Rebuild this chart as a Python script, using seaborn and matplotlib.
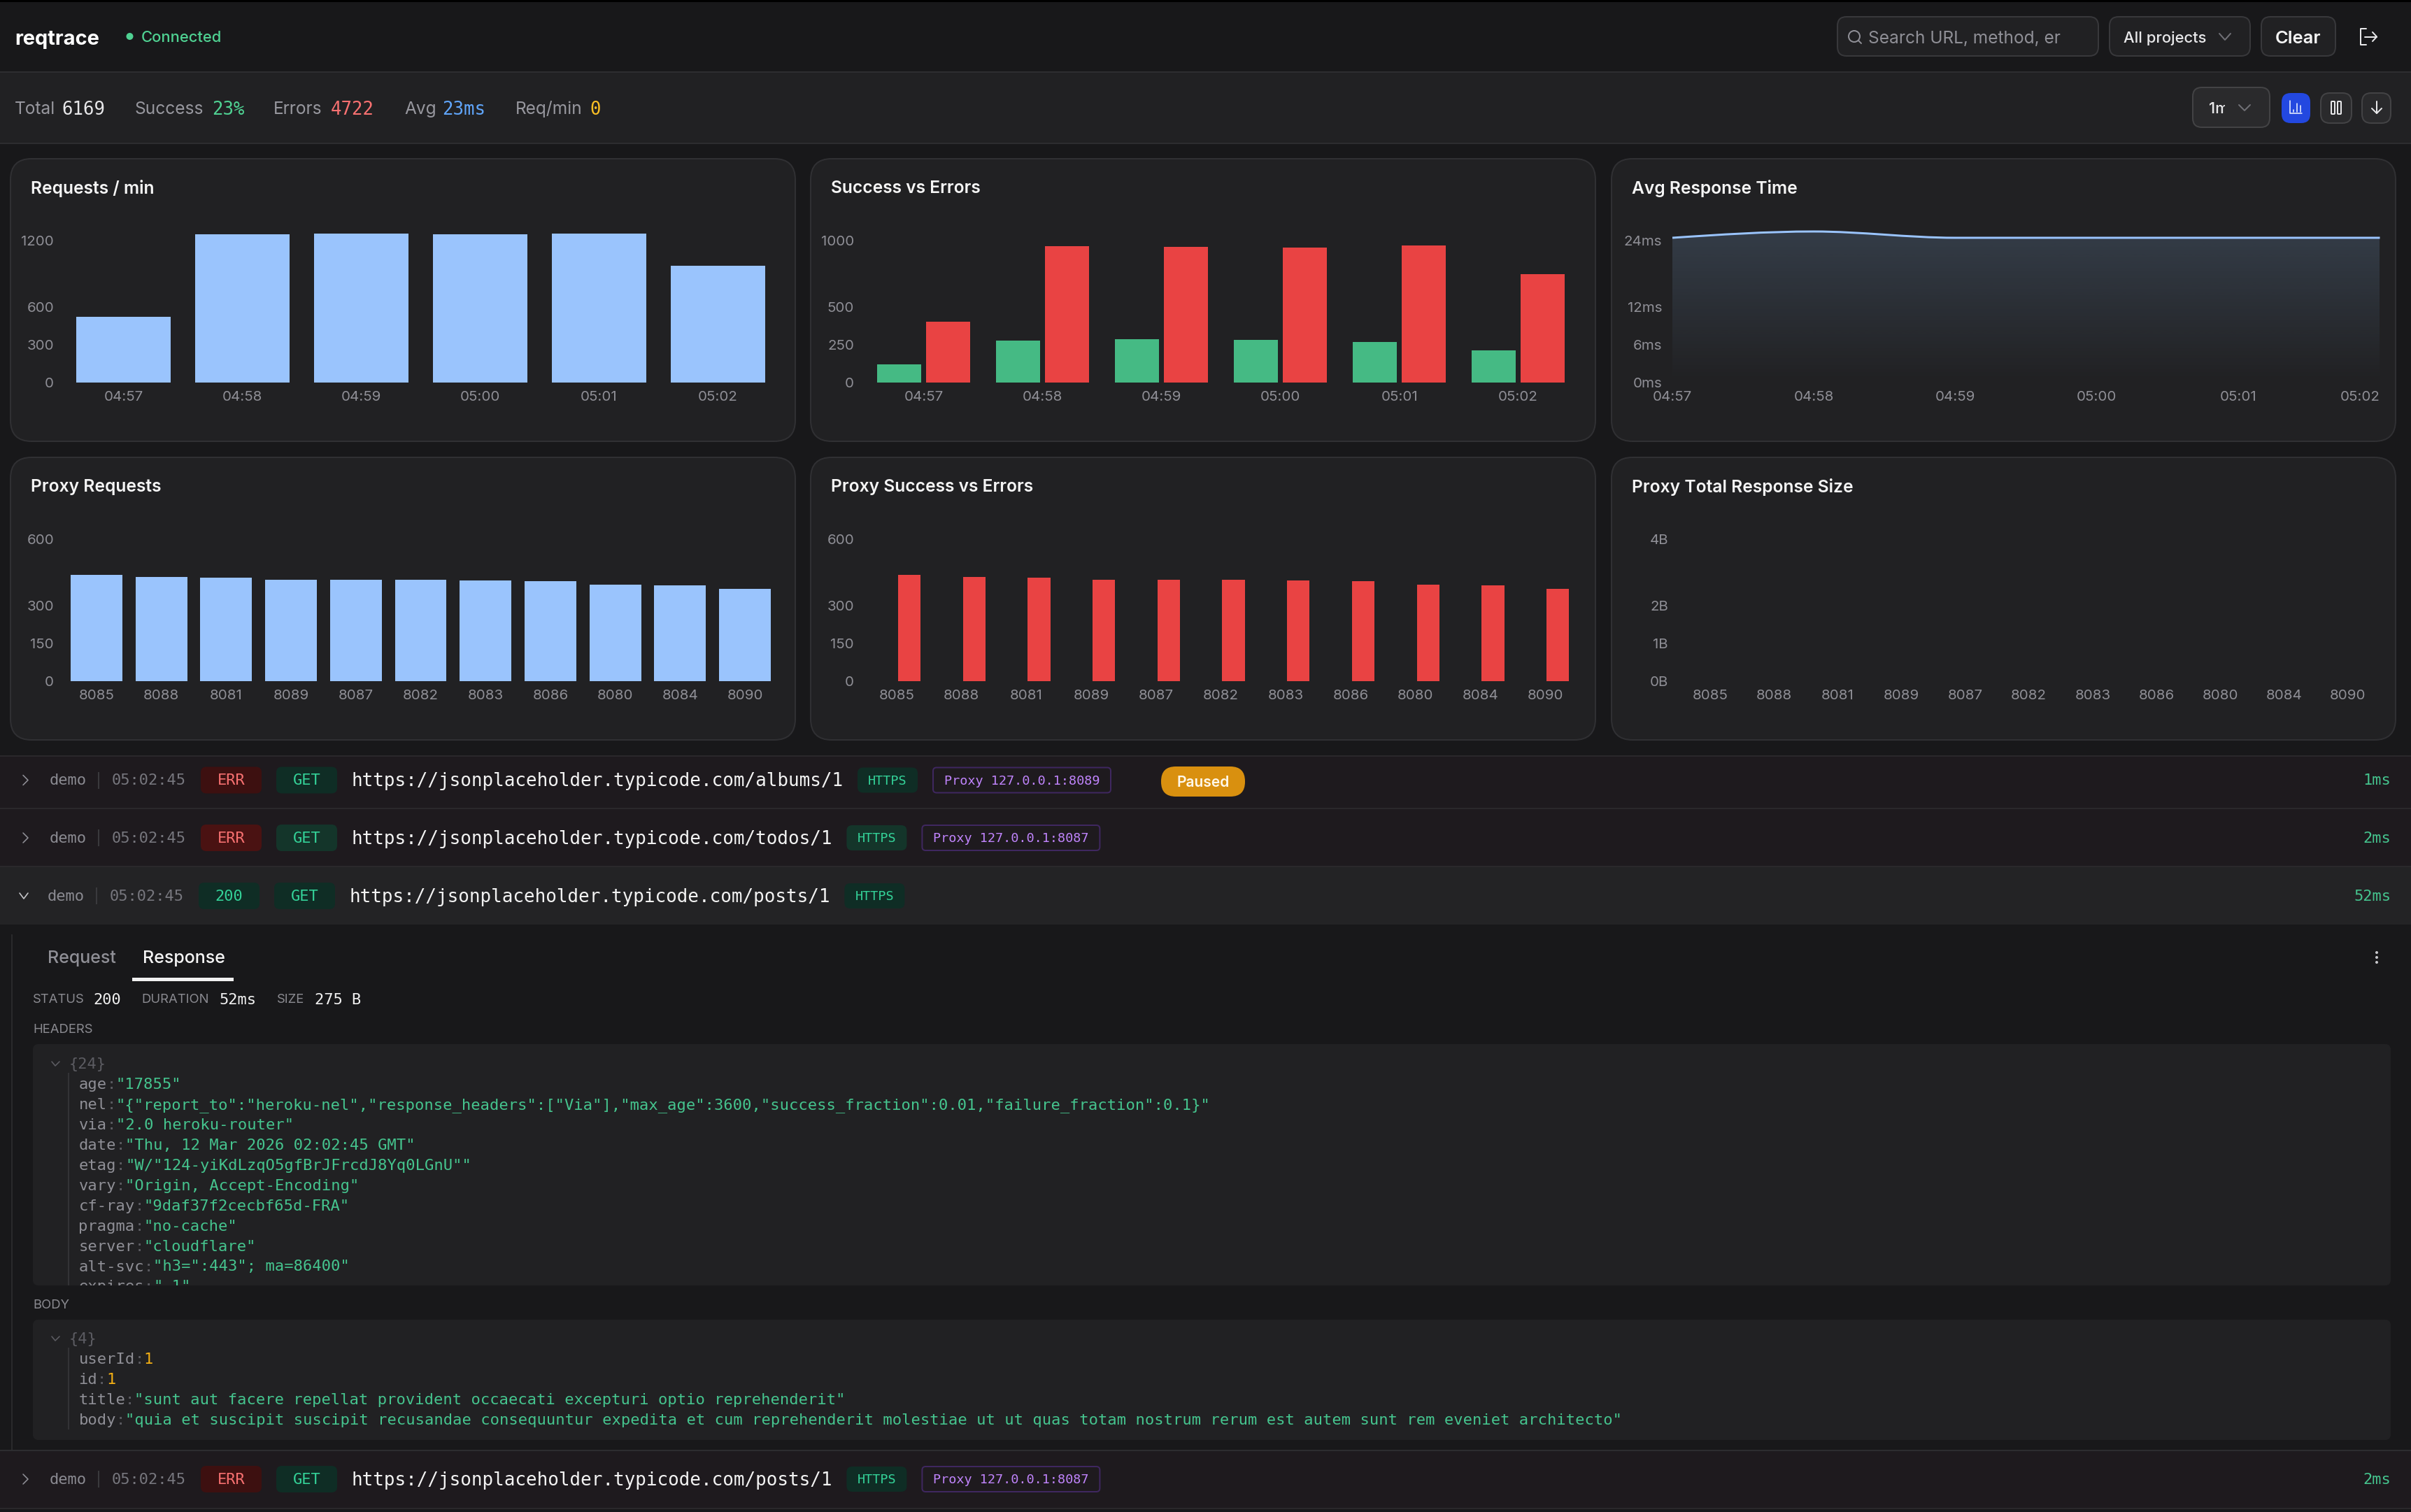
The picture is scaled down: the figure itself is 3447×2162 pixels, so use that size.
#!/usr/bin/env python3
"""reqtrace dashboard screenshot, rebuilt with seaborn charts on a pixel canvas"""

import numpy as np
import pandas as pd
import matplotlib.pyplot as plt
import seaborn as sns
from matplotlib.patches import FancyBboxPatch, PathPatch, Rectangle, Circle
from matplotlib.path import Path
from matplotlib.transforms import ScaledTranslation

W, H = 3448, 2162
DPI = 100

# --- chart data ---
minutes = ['04:57', '04:58', '04:59', '05:00', '05:01', '05:02']
requests_per_min = [522, 1178, 1183, 1178, 1183, 930]
success_per_min = [119, 276, 286, 284, 270, 214]
errors_per_min = [403, 903, 897, 895, 909, 718]
avg_response_ms = [23, 24, 23, 23, 23, 23]

ports = ['8085', '8088', '8081', '8089', '8087', '8082', '8083', '8086', '8080', '8084', '8090']
proxy_requests = [422, 415, 412, 404, 402, 402, 400, 397, 383, 381, 367]
proxy_success = [0, 0, 0, 0, 0, 0, 0, 0, 0, 0, 0]
proxy_errors = [422, 415, 412, 404, 402, 402, 400, 397, 383, 381, 367]
proxy_size_bytes = [0, 0, 0, 0, 0, 0, 0, 0, 0, 0, 0]

req_ticks = [0, 300, 600, 1200]
split_ticks = [0, 250, 500, 1000]
ms_ticks = [0, 6, 12, 24]
proxy_ticks = [0, 150, 300, 600]
size_ticks = [0, 1, 2, 4]

# --- page text ---
stat_labels = ['Total', 'Success', 'Errors', 'Avg', 'Req/min']
stat_values = ['6169', '23%', '4722', '23ms', '0']

header_lines = [
    ('age', '"17855"'),
    ('nel', '"{"report_to":"heroku-nel","response_headers":["Via"],"max_age":3600,"success_fraction":0.01,"failure_fraction":0.1}"'),
    ('via', '"2.0 heroku-router"'),
    ('date', '"Thu, 12 Mar 2026 02:02:45 GMT"'),
    ('etag', '"W/"124-yiKdLzqO5gfBrJFrcdJ8Yq0LGnU""'),
    ('vary', '"Origin, Accept-Encoding"'),
    ('cf-ray', '"9daf37f2cecbf65d-FRA"'),
    ('pragma', '"no-cache"'),
    ('server', '"cloudflare"'),
    ('alt-svc', '"h3=":443"; ma=86400"'),
    ('expires', '"-1"'),
]
body_lines = [
    ('userId', '1'),
    ('id', '1'),
    ('title', '"sunt aut facere repellat provident occaecati excepturi optio reprehenderit"'),
    ('body', '"quia et suscipit suscipit recusandae consequuntur expedita et cum reprehenderit molestiae ut ut quas totam nostrum rerum est autem sunt rem eveniet architecto"'),
]

# colours
PAGE = '#18181a'
PANEL = '#212123'
LINE = '#2d2d30'
MUTED = '#8f8f96'
BLUE = '#9ac4fd'
RED = '#e94343'
GREEN = '#45ba84'
TEXT_GREEN = '#45c48e'

SANS = 'Inter'
MONO = 'DejaVu Sans Mono'

sns.set_theme(style='dark', rc={'figure.facecolor': PAGE, 'axes.facecolor': 'none'})
plt.rcParams['font.family'] = [SANS, 'DejaVu Sans']

fig = plt.figure(figsize=(W / DPI, H / DPI), dpi=DPI)
ui = fig.add_axes([0, 0, 1, 1], zorder=0)
ui.set_xlim(0, W)
ui.set_ylim(H, 0)
ui.axis('off')


def pt(px):
    return px * 72 / DPI


def rect(x0, y0, x1, y1, color, z=1):
    ui.add_patch(Rectangle((x0, y0), x1 - x0, y1 - y0, fc=color, ec='none', zorder=z))


def box(x0, y0, x1, y1, r, fc, ec='none', lw=2, z=1):
    ui.add_patch(FancyBboxPatch((x0, y0), x1 - x0, y1 - y0,
                                boxstyle=f'round,pad=0,rounding_size={r}',
                                fc=fc, ec=ec, lw=pt(lw), zorder=z))


def label(x, y, s, px, color, weight='normal', ha='left', font=SANS):
    return ui.text(x, y, s, fontsize=pt(px), color=color, fontweight=weight, ha=ha,
                   va='center_baseline', family=[font, 'DejaVu Sans'], zorder=5)


def stroke(xs, ys, color, px=2.0):
    ui.plot(xs, ys, color=color, lw=pt(px), solid_capstyle='round', solid_joinstyle='round', zorder=5)


def chart_axes(x0, x1, y_top, y_base):
    ax = fig.add_axes([x0 / W, 1 - y_base / H, (x1 - x0) / W, (y_base - y_top) / H], zorder=2)
    ax.patch.set_alpha(0)
    return ax


def style_axis(ax, ticks, tick_labels, y_top_label_shift=13):
    ax.set_xlabel('')
    ax.set_ylabel('')
    ax.set_yticks(ticks)
    ax.set_yticklabels(tick_labels)
    ax.set_ylim(0, ticks[-1])
    ax.tick_params(axis='both', length=0, labelcolor=MUTED, labelsize=pt(20.5), colors=MUTED)
    ax.tick_params(axis='y', pad=pt(14.5))
    ax.tick_params(axis='x', pad=pt(12))
    ax.grid(False)
    sns.despine(ax=ax, left=True, bottom=True)
    # the top label sits lower than its tick so it stays inside the plot
    top = ax.get_yticklabels()[-1]
    top.set_transform(top.get_transform() + ScaledTranslation(0, -y_top_label_shift / DPI, fig.dpi_scale_trans))


def monotone_path(xs, ys):
    """Curve through the points with flat tangents at turning points."""
    xs, ys = np.asarray(xs, float), np.asarray(ys, float)
    slopes = np.diff(ys) / np.diff(xs)
    tang = np.zeros_like(ys)
    for i in range(1, len(ys) - 1):
        if slopes[i - 1] * slopes[i] > 0:
            tang[i] = 2 * slopes[i - 1] * slopes[i] / (slopes[i - 1] + slopes[i])
    tang[0] = 1.5 * slopes[0] - 0.5 * tang[1]
    tang[-1] = 1.5 * slopes[-1] - 0.5 * tang[-2]
    verts, codes = [(xs[0], ys[0])], [Path.MOVETO]
    for i in range(len(xs) - 1):
        dx = (xs[i + 1] - xs[i]) / 3
        verts += [(xs[i] + dx, ys[i] + tang[i] * dx),
                  (xs[i + 1] - dx, ys[i + 1] - tang[i + 1] * dx),
                  (xs[i + 1], ys[i + 1])]
        codes += [Path.CURVE4] * 3
    return verts, codes


# ---------- page frame ----------
rect(0, 0, W, 3, '#000000')
rect(0, 3, W, 103, PAGE)
rect(0, 103, W, 205, PANEL)
rect(0, 102, W, 104, LINE, z=2)
rect(0, 204, W, 206, LINE, z=2)

label(21, 53, 'reqtrace', 29, '#ffffff', weight='bold')
ui.add_patch(Circle((185.5, 52), 5, fc='#4fd192', ec='none', zorder=5))
label(202, 52, 'Connected', 22, '#4fd192', weight='medium')

box(2627, 24, 3000, 80, 13, PANEL, '#38383b')
ui.add_patch(Circle((2651, 52), 8, fc='none', ec=MUTED, lw=pt(2), zorder=5))
stroke([2657, 2661], [58, 62], MUTED)
label(2671, 53, 'Search URL, method, er', 24.5, MUTED)
box(3016, 24, 3217, 80, 13, PANEL, '#38383b')
label(3036, 53, 'All projects', 22, '#e8e8ea', weight='medium')
stroke([3173, 3181, 3189], [48, 57, 48], '#707076')
box(3233, 24, 3339, 80, 13, PANEL, '#38383b')
label(3286, 53, 'Clear', 25.5, '#f5f5f5', weight='semibold', ha='center')
stroke([3383, 3375, 3375, 3383], [41, 41, 64, 64], '#e8e8ea')
stroke([3381, 3398], [52.5, 52.5], '#e8e8ea')
stroke([3392, 3398, 3392], [46, 52.5, 59], '#e8e8ea')

# stats bar
stat_label_x = [21, 193, 391, 578, 737]
stat_value_x = [88, 303, 473, 632, 843]
stat_colors = ['#e8e8ea', '#4fd192', '#f87171', '#60a5fa', '#fbbf24']
for lx, vx, name, value, col in zip(stat_label_x, stat_value_x, stat_labels, stat_values, stat_colors):
    label(lx, 154, name, 24.5, '#97979e')
    label(vx, 154, value, 25.8, col, font=MONO)

box(3135, 125, 3245, 182, 13, '#2a2a2c', '#434345')
label(3158, 154, '1m', 22, '#e8e8ea', weight='medium')
rect(3181, 140, 3192, 170, '#2a2a2c', z=6)
stroke([3201, 3209, 3217], [150, 158, 150], '#707076')
box(3262, 133, 3303, 176, 13, '#2348e0')
stroke([3274, 3274, 3291], [144, 162, 162], '#e8eeff', 1.6)
for bx, by in [(3279, 157), (3284, 148), (3289, 151)]:
    stroke([bx, bx], [by, 160], '#e8eeff', 1.6)
box(3318, 133, 3362, 176, 13, '#2a2a2c', '#434345')
box(3333, 145, 3338, 163, 1, 'none', '#e8e8ea', z=5)
box(3342, 145, 3347, 163, 1, 'none', '#e8e8ea', z=5)
box(3377, 133, 3418, 176, 13, '#2a2a2c', '#434345')
stroke([3398, 3398], [145, 162], '#e8e8ea')
stroke([3391, 3398, 3405], [155, 162, 155], '#e8e8ea')

# ---------- chart cards ----------
card_x = [(15, 1137), (1159, 2281), (2304, 3425)]
card_y = [(227, 631), (654, 1058)]
card_titles = [['Requests / min', 'Success vs Errors', 'Avg Response Time'],
               ['Proxy Requests', 'Proxy Success vs Errors', 'Proxy Total Response Size']]
for (y0, y1), titles in zip(card_y, card_titles):
    for (x0, x1), title in zip(card_x, titles):
        box(x0, y0, x1, y1, 30, PANEL, '#303033')
        label(x0 + 29, y0 + 40, title, 24.6, '#f5f5f5', weight='semibold')

TOPS = (331, 758)
BASES = (547, 974)
PLOT_X = [(91.5, 1111.5), (1235.6, 2255.6), (2391, 3402.5)]

# Requests / min
ax = chart_axes(*PLOT_X[0], TOPS[0], BASES[0])
sns.barplot(x=minutes, y=requests_per_min, color=BLUE, saturation=1, width=0.794, linewidth=0, ax=ax)
style_axis(ax, req_ticks, [str(t) for t in req_ticks])

# Success vs Errors
split_df = pd.DataFrame({
    'minute': minutes * 2,
    'count': success_per_min + errors_per_min,
    'kind': ['success'] * len(minutes) + ['errors'] * len(minutes),
})
ax = chart_axes(*PLOT_X[1], TOPS[0], BASES[0])
sns.barplot(data=split_df, x='minute', y='count', hue='kind', palette={'success': GREEN, 'errors': RED},
            saturation=1, width=0.828, gap=0.105, linewidth=0, legend=False, ax=ax)
style_axis(ax, split_ticks, [str(t) for t in split_ticks])

# Avg Response Time
ax = chart_axes(*PLOT_X[2], TOPS[0], BASES[0])
sns.lineplot(x=np.arange(len(minutes)), y=avg_response_ms, ax=ax, errorbar=None, color=BLUE)
trend = ax.lines[0]
verts, codes = monotone_path(trend.get_xdata(), trend.get_ydata())
trend.remove()
ax.add_patch(PathPatch(Path(verts, codes), fc='none', ec=BLUE, lw=pt(3), capstyle='butt', clip_on=False, zorder=3))
fade = np.zeros((256, 1, 4))
fade[..., :3] = [0x93 / 255, 0xc5 / 255, 0xfd / 255]
fade[..., 3] = np.linspace(0.17, 0.0, 256)[:, None]
img = ax.imshow(fade, extent=(0, len(minutes) - 1, 0, ms_ticks[-1]), aspect='auto', origin='upper', zorder=1)
n_last = len(minutes) - 1
under = Path(verts + [(n_last, 0), (0, 0), verts[0]], codes + [Path.LINETO, Path.LINETO, Path.CLOSEPOLY])
img.set_clip_path(PathPatch(under, transform=ax.transData))
ax.set_xlim(0, n_last)
ax.set_xticks(range(len(minutes)))
ax.set_xticklabels(minutes)
style_axis(ax, ms_ticks, [f'{t}ms' for t in ms_ticks])
ax.get_xticklabels()[-1].set_ha('right')

# Proxy Requests
ax = chart_axes(*PLOT_X[0], TOPS[1], BASES[1])
sns.barplot(x=ports, y=proxy_requests, color=BLUE, saturation=1, width=0.797, linewidth=0, ax=ax)
style_axis(ax, proxy_ticks, [str(t) for t in proxy_ticks])

# Proxy Success vs Errors
proxy_df = pd.DataFrame({
    'port': ports * 2,
    'count': proxy_success + proxy_errors,
    'kind': ['success'] * len(ports) + ['errors'] * len(ports),
})
ax = chart_axes(*PLOT_X[1], TOPS[1], BASES[1])
sns.barplot(data=proxy_df, x='port', y='count', hue='kind', palette={'success': GREEN, 'errors': RED},
            saturation=1, width=0.776, gap=0.103, linewidth=0, legend=False, ax=ax)
style_axis(ax, proxy_ticks, [str(t) for t in proxy_ticks])

# Proxy Total Response Size (all zero)
ax = chart_axes(2399.4, 3402, TOPS[1], BASES[1])
sns.barplot(x=ports, y=proxy_size_bytes, color=BLUE, saturation=1, width=0.8, linewidth=0, ax=ax)
style_axis(ax, size_ticks, [f'{t}B' for t in size_ticks])

# ---------- request rows ----------
CHAR = 15.6
ERR_ROW = '#1e1a1e'


def request_row(y0, y1, cy, url, proxy, duration, expanded=False, status='ERR', bright=False):
    shift = -3 if expanded else 0
    if expanded:
        rect(0, y0, W, y1, '#232325')
        stroke([28, 34, 40], [1277, 1285, 1277], '#c8c8cc', 1.6)
    else:
        rect(0, y0, W, y1, ERR_ROW)
        rect(0, y1 - 1, W, y1 + 1, '#2a282b', z=2)
        stroke([33, 40, 33], [cy - 7, cy, cy + 7], '#8f8f96', 1.6)
    label(71 + shift, cy - 1, 'demo', 22, '#8b8b92', font=MONO)
    rect(140 + shift, cy - 12, 142 + shift, cy + 12, '#3a3a3d', z=2)
    label(160 + shift, cy - 1, '05:02:45', 22, '#77777e', font=MONO)
    x_status = 287 + shift
    is_err = status == 'ERR'
    box(x_status, cy - 19, x_status + 87, cy + 19, 8,
        ('#4a1212' if bright else '#3d1010') if is_err else '#0f2d25')
    label(x_status + 43.5, cy - 1, status, 22, '#f87171' if is_err else '#34d399', ha='center', font=MONO)
    x_get = 395 + shift
    box(x_get, cy - 19, x_get + 87, cy + 19, 8, '#14352a' if bright else '#0f2d25')
    label(x_get + 43.5, cy - 1, 'GET', 22, '#34d399', ha='center', font=MONO)
    x_url = 503 + shift
    label(x_url, cy - 1, url, 26, '#f2f2f2', font=MONO)
    x_https = x_url + CHAR * len(url) + 21
    box(x_https, cy - 18, x_https + 86, cy + 18, 8, '#14352a' if bright else '#0f2d25')
    label(x_https + 43, cy - 1, 'HTTPS', 18.5, '#34d399', ha='center', font=MONO)
    if proxy:
        x_proxy = x_https + 108
        box(x_proxy, cy - 18, x_proxy + 254, cy + 18, 5, 'none', '#3f2760')
        label(x_proxy + 16, cy - 1, proxy, 18.5, '#c084fc', font=MONO)
    label(3418, cy - 1, duration, 22, TEXT_GREEN, ha='right', font=MONO)


request_row(1081, 1156, 1115.5, 'https://jsonplaceholder.typicode.com/albums/1', 'Proxy 127.0.0.1:8089', '1ms')
request_row(1157, 1239, 1198, 'https://jsonplaceholder.typicode.com/todos/1', 'Proxy 127.0.0.1:8087', '2ms', bright=True)
request_row(1240, 1322, 1281, 'https://jsonplaceholder.typicode.com/posts/1', None, '52ms', expanded=True, status='200')
request_row(2075, 2157, 2115, 'https://jsonplaceholder.typicode.com/posts/1', 'Proxy 127.0.0.1:8087', '2ms')
rect(0, 1080, W, 1082, '#2a282b', z=2)
rect(0, 2073, W, 2075, '#2d2d30', z=2)

box(1660, 1096, 1780, 1139, 21, '#d9900f', z=4)
label(1720, 1117, 'Paused', 21, '#fff8ea', weight='semibold', ha='center')

# ---------- expanded detail ----------
rect(16, 1336, 18, 2073, '#2a2a2c')
label(68, 1368, 'Request', 25, '#8f8f96', weight='medium')
label(204, 1368, 'Response', 25, '#f5f5f5', weight='medium')
rect(189, 1398, 334, 1403, '#f0f0f0')
for dot_y in (1362, 1369, 1376):
    ui.add_patch(Circle((3398, dot_y), 2, fc='#c8c8cc', ec='none', zorder=5))

for x, s in [(47, 'STATUS'), (202, 'DURATION'), (396, 'SIZE')]:
    label(x, 1428, s, 18.5, '#8a8a90')
for x, s in [(133, '200'), (313, '52ms'), (450, '275 B')]:
    label(x, 1428, s, 22, '#f2f2f2', font=MONO)
label(47, 1470.5, 'HEADERS', 18.5, '#8a8a90')
label(47, 1864.5, 'BODY', 18.5, '#8a8a90')

KEY = '#8f8f96'
COLON = '#5c5c62'
CODE_CHAR = 13.3


def code_block(y0, y1, count, lines, first_y, step):
    box(47, y0, 3418, y1, 8, PANEL)
    stroke([74, 79, 85], [first_y - 2, first_y + 4, first_y - 2], COLON, 1.6)
    label(98.5, first_y, count, 22, COLON, font=MONO)
    y_last = first_y + step * (len(lines) + 0.5)
    rect(97, first_y + 14, 99, min(y_last, y1), '#333336')
    for i, (key, value) in enumerate(lines):
        y = first_y + step * (i + 1)
        label(112.5, y, key, 22.1, KEY, font=MONO)
        x = 112.5 + CODE_CHAR * len(key)
        label(x, y, ':', 22.1, COLON, font=MONO)
        col = TEXT_GREEN if value.startswith('"') else '#f5b014'
        label(x + CODE_CHAR, y, value, 22.1, col, font=MONO)


code_block(1493, 1838, '{24}', header_lines, 1520, 28.95)
rect(47, 1838, 3418, 1852, PAGE, z=6)
code_block(1887, 2059, '{4}', body_lines, 1913, 29)

fig.savefig('out.png', dpi=DPI, facecolor=PAGE)
